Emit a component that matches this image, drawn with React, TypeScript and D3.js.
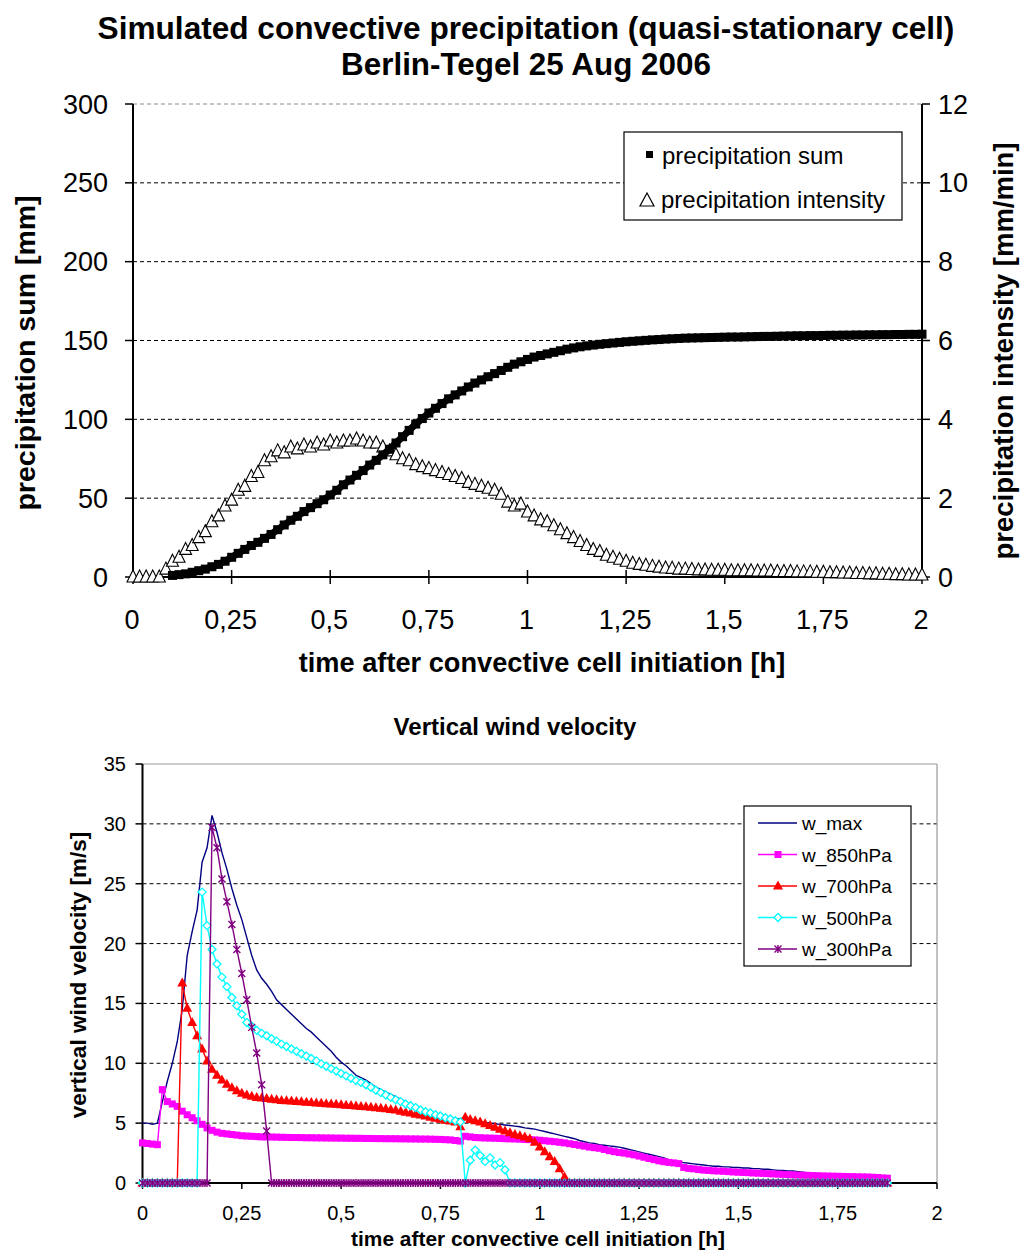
import React from "react";
import * as d3 from "d3";

// ---------- upper panel: precipitation of the simulated cell ----------
// output every minute, 0 .. 2 h
const precipTimeH: number[] = d3.range(0, 121).map((i) => i / 60);

// accumulated precipitation [mm] (no output before 6 min)
const precipSumMm: (number | null)[] = [
  null, null, null, null, null, null,
  1, 1.5, 2, 3, 4, 5, 6.5, 8, 10, 12.5,
  15, 17.5, 20, 22, 24.5, 27, 30, 33, 36, 38.5,
  41.5, 44, 46.5, 49, 52, 55, 58.5, 61.5, 64.5, 67.5,
  71, 74, 77.5, 81, 85, 89, 93, 97, 100.5, 104,
  107, 110, 113, 115.5, 118, 120.5, 123, 125, 127, 129,
  131, 133, 135, 136.5, 138, 139.5, 140.5, 141.5, 142.5, 143.5,
  144.5, 145.3, 146, 146.6, 147.1, 147.6, 148, 148.4, 148.8, 149.2,
  149.5, 149.8, 150.1, 150.4, 150.6, 150.9, 151.1, 151.3, 151.5,
  151.6, 151.7, 151.8, 151.9, 152, 152.1, 152.2, 152.2, 152.3, 152.4,
  152.5, 152.6, 152.6, 152.7, 152.8, 152.9, 153, 153, 153.1, 153.1,
  153.2, 153.3, 153.3, 153.4, 153.4, 153.5, 153.5, 153.6, 153.6, 153.7,
  153.7, 153.8, 153.8, 153.9, 153.9, 154,
];

// precipitation intensity [mm/min]
const precipIntensity: number[] = [
  0, 0, 0, 0, 0,
  0.2, 0.4, 0.5, 0.7, 0.8, 1.0, 1.15, 1.4, 1.55, 1.8,
  1.95, 2.2, 2.3, 2.55, 2.65, 2.95, 3.05, 3.2, 3.15, 3.3,
  3.25, 3.35, 3.3, 3.4, 3.35, 3.45, 3.4, 3.45, 3.45, 3.5,
  3.45, 3.4, 3.4, 3.3, 3.2, 3.1, 3.0, 2.95, 2.85, 2.8,
  2.75, 2.7, 2.65, 2.6, 2.55, 2.5, 2.4, 2.35, 2.3, 2.25,
  2.2, 2.1, 1.9, 1.8, 1.85, 1.65, 1.55, 1.45, 1.4, 1.3,
  1.2, 1.1, 1.0, 0.9, 0.8, 0.7, 0.65, 0.55, 0.5, 0.45,
  0.4, 0.35, 0.32, 0.3, 0.27, 0.25, 0.23, 0.22, 0.2, 0.2,
  0.19, 0.18, 0.18, 0.17, 0.17, 0.17, 0.16, 0.16, 0.16, 0.16,
  0.15, 0.15, 0.15, 0.14, 0.14, 0.14, 0.13, 0.13, 0.13, 0.12,
  0.12, 0.11, 0.11, 0.1, 0.1, 0.09, 0.09, 0.08, 0.08, 0.07,
  0.07, 0.06, 0.06, 0.05, 0.05, 0.05,
];

const sumTicks = [0, 50, 100, 150, 200, 250, 300];
const intensityTicks = [0, 2, 4, 6, 8, 10, 12];
const timeTicks = [0, 0.25, 0.5, 0.75, 1, 1.25, 1.5, 1.75, 2];
const timeTickLabels = ["0", "0,25", "0,5", "0,75", "1", "1,25", "1,5", "1,75", "2"];

// ---------- lower panel: vertical wind velocity ----------
// output every 45 s, 0 .. 1.875 h
const windTimeH: number[] = d3.range(0, 151).map((i) => i * 0.0125);

const wMax: number[] = [
  5.0, 5.0, 4.9, 5.0, 6.8, 8.5, 10.0, 11.8, 14.5, 19.0,
  21.0, 22.8, 26.8, 28.0, 30.7, 29.3, 27.6, 26.2, 24.6, 23.2,
  22.0, 20.5, 19.0, 17.8, 17.1, 16.6, 16.0, 15.3, 14.9, 14.5,
  14.1, 13.7, 13.3, 12.9, 12.6, 12.2, 11.8, 11.4, 11.0, 10.5,
  10.1, 9.8, 9.4, 9.0, 8.8, 8.6, 8.3, 8.0, 7.8, 7.6,
  7.4, 7.2, 7.0, 6.8, 6.6, 6.4, 6.2, 6.1, 5.95, 5.8,
  5.7, 5.6, 5.5, 5.4, 5.35, 5.5, 5.35, 5.2, 5.1, 5.05,
  5.0, 4.95, 4.9, 4.85, 4.8, 4.75, 4.7, 4.6, 4.55, 4.5,
  4.4, 4.3, 4.2, 4.1, 4.0, 3.9, 3.8, 3.7, 3.55, 3.45,
  3.35, 3.3, 3.2, 3.15, 3.1, 3.05, 3.0, 2.9, 2.8, 2.7,
  2.6, 2.5, 2.4, 2.3, 2.2, 2.1, 1.95, 1.8, 1.75, 1.7,
  1.65, 1.6, 1.55, 1.5, 1.45, 1.4, 1.4, 1.35, 1.35, 1.3,
  1.3, 1.25, 1.25, 1.2, 1.2, 1.15, 1.15, 1.1, 1.05, 1.05,
  1.0, 1.0, 0.95, 0.9, 0.85, 0.8, 0.8, 0.75, 0.7, 0.7,
  0.65, 0.6, 0.6, 0.55, 0.55, 0.5, 0.5, 0.45, 0.45, 0.4, 0.4,
];

const w850: number[] = [
  3.35, 3.3, 3.25, 3.2, 7.8, 6.8, 6.6, 6.4, 6.0, 5.7,
  5.45, 5.2, 4.9, 4.6, 4.4, 4.25, 4.15, 4.1, 4.05, 4.0,
  3.95, 3.92, 3.9, 3.88, 3.85, 3.85, 3.84, 3.83, 3.82, 3.81,
  3.8, 3.8, 3.79, 3.78, 3.78, 3.77, 3.77, 3.76, 3.76, 3.75,
  3.75, 3.74, 3.74, 3.73, 3.73, 3.72, 3.72, 3.71, 3.71, 3.7,
  3.7, 3.7, 3.69, 3.69, 3.68, 3.68, 3.67, 3.67, 3.66, 3.65,
  3.64, 3.62, 3.6, 3.55, 3.5, 3.9, 3.85, 3.8, 3.78, 3.76,
  3.75, 3.74, 3.72, 3.7, 3.69, 3.68, 3.66, 3.64, 3.62, 3.6,
  3.57, 3.53, 3.49, 3.45, 3.4, 3.35, 3.28, 3.22, 3.15, 3.08,
  3.0, 2.95, 2.9, 2.8, 2.7, 2.62, 2.55, 2.5, 2.42, 2.35,
  2.25, 2.15, 2.05, 1.95, 1.85, 1.78, 1.72, 1.68, 1.62, 1.3,
  1.22, 1.18, 1.12, 1.08, 1.05, 1.02, 1.0, 0.98, 0.95, 0.92,
  0.9, 0.88, 0.86, 0.84, 0.82, 0.8, 0.78, 0.76, 0.74, 0.72,
  0.7, 0.68, 0.66, 0.65, 0.64, 0.62, 0.6, 0.59, 0.58, 0.57,
  0.56, 0.55, 0.54, 0.53, 0.52, 0.51, 0.5, 0.48, 0.46, 0.43, 0.4,
];

const w700: number[] = [
  0, 0, 0, 0, 0, 0, 0, 0, 16.7, 14.6,
  13.4, 12.3, 11.2, 10.2, 9.5, 9.0, 8.6, 8.25, 7.95, 7.7,
  7.5, 7.35, 7.25, 7.15, 7.1, 7.05, 7.0, 6.95, 6.9, 6.87,
  6.84, 6.81, 6.78, 6.75, 6.72, 6.69, 6.66, 6.63, 6.6, 6.57,
  6.54, 6.5, 6.47, 6.44, 6.4, 6.36, 6.32, 6.28, 6.24, 6.2,
  6.15, 6.1, 6.0, 5.92, 5.85, 5.75, 5.68, 5.6, 5.5, 5.4,
  5.32, 5.25, 5.18, 5.1, 4.7, 5.5, 5.3, 5.2, 5.1, 4.95,
  4.8, 4.65, 4.5, 4.35, 4.2, 4.05, 3.95, 3.85, 3.7, 3.4,
  3.0, 2.6, 2.2, 1.8, 1.2, 0.5, 0, 0, 0, 0,
  0, 0, 0, 0, 0, 0, 0, 0, 0, 0,
  0, 0, 0, 0, 0, 0, 0, 0, 0, 0,
  0, 0, 0, 0, 0, 0, 0, 0, 0, 0,
  0, 0, 0, 0, 0, 0, 0, 0, 0, 0,
  0, 0, 0, 0, 0, 0, 0, 0, 0, 0,
  0, 0, 0, 0, 0, 0, 0, 0, 0, 0, 0,
];

const w500: number[] = [
  0, 0, 0, 0, 0, 0, 0, 0, 0, 0,
  0, 0, 24.3, 21.5, 19.5, 18.3, 17.2, 16.4, 15.5, 14.8,
  14.1, 13.4, 13.1, 12.75, 12.5, 12.3, 12.05, 11.85, 11.6, 11.4,
  11.2, 11.0, 10.8, 10.6, 10.4, 10.2, 9.95, 9.75, 9.55, 9.35,
  9.15, 8.95, 8.75, 8.55, 8.4, 8.2, 8.0, 7.75, 7.55, 7.35,
  7.15, 6.95, 6.8, 6.6, 6.45, 6.3, 6.1, 5.95, 5.85, 5.7,
  5.6, 5.45, 5.35, 5.2, 5.1, 0, 1.9, 2.75, 2.3, 1.8,
  2.1, 1.5, 1.7, 1.1, 0, 0, 0, 0, 0, 0,
  0, 0, 0, 0, 0, 0, 0, 0, 0, 0,
  0, 0, 0, 0, 0, 0, 0, 0, 0, 0,
  0, 0, 0, 0, 0, 0, 0, 0, 0, 0,
  0, 0, 0, 0, 0, 0, 0, 0, 0, 0,
  0, 0, 0, 0, 0, 0, 0, 0, 0, 0,
  0, 0, 0, 0, 0, 0, 0, 0, 0, 0,
  0, 0, 0, 0, 0, 0, 0, 0, 0, 0, 0,
];

const w300: number[] = [
  0, 0, 0, 0, 0, 0, 0, 0, 0, 0,
  0, 0, 0, 0, 29.7, 28.0, 25.4, 23.5, 21.6, 19.5,
  17.5, 15.3, 13.0, 10.85, 8.2, 4.35, 0, 0, 0, 0,
  0, 0, 0, 0, 0, 0, 0, 0, 0, 0,
  0, 0, 0, 0, 0, 0, 0, 0, 0, 0,
  0, 0, 0, 0, 0, 0, 0, 0, 0, 0,
  0, 0, 0, 0, 0, 0, 0, 0, 0, 0,
  0, 0, 0, 0, 0, 0, 0, 0, 0, 0,
  0, 0, 0, 0, 0, 0, 0, 0, 0, 0,
  0, 0, 0, 0, 0, 0, 0, 0, 0, 0,
  0, 0, 0, 0, 0, 0, 0, 0, 0, 0,
  0, 0, 0, 0, 0, 0, 0, 0, 0, 0,
  0, 0, 0, 0, 0, 0, 0, 0, 0, 0,
  0, 0, 0, 0, 0, 0, 0, 0, 0, 0,
  0, 0, 0, 0, 0, 0, 0, 0, 0, 0, 0,
];

const windTicks = [0, 5, 10, 15, 20, 25, 30, 35];

type Marker = "none" | "square" | "triangle" | "diamond" | "star";
const windSeries: { name: string; values: number[]; color: string; marker: Marker }[] = [
  { name: "w_max", values: wMax, color: "#000080", marker: "none" },
  { name: "w_850hPa", values: w850, color: "#FF00FF", marker: "square" },
  { name: "w_700hPa", values: w700, color: "#FF0000", marker: "triangle" },
  { name: "w_500hPa", values: w500, color: "#00FFFF", marker: "diamond" },
  { name: "w_300hPa", values: w300, color: "#800080", marker: "star" },
];

const FONT = "'Liberation Sans', Arial, Helvetica, sans-serif";

function WindMarker({ kind, x, y, color }: { kind: Marker; x: number; y: number; color: string }) {
  if (kind === "square") {
    return <rect x={x - 3.5} y={y - 3.5} width={7} height={7} fill={color} />;
  }
  if (kind === "triangle") {
    return <path d={`M${x},${y - 5.5} L${x + 5},${y + 3.5} L${x - 5},${y + 3.5} Z`} fill={color} />;
  }
  if (kind === "diamond") {
    return (
      <path
        d={`M${x},${y - 4} L${x + 4},${y} L${x},${y + 4} L${x - 4},${y} Z`}
        fill="#fff"
        stroke={color}
        strokeWidth={1.3}
      />
    );
  }
  if (kind === "star") {
    return (
      <path
        d={`M${x - 3.5},${y - 3.5} L${x + 3.5},${y + 3.5} M${x - 3.5},${y + 3.5} L${x + 3.5},${y - 3.5} M${x},${y - 4} L${x},${y + 4}`}
        stroke={color}
        strokeWidth={1.4}
        fill="none"
      />
    );
  }
  return null;
}

export default function App() {
  // ----- upper panel scales -----
  const xTop = d3.scaleLinear().domain([0, 2]).range([133, 922]);
  const ySum = d3.scaleLinear().domain([0, 300]).range([577, 104]);
  const yInt = d3.scaleLinear().domain([0, 12]).range([577, 104]);

  // ----- lower panel scales -----
  const xBot = d3.scaleLinear().domain([0, 2]).range([142.5, 937]);
  const yBot = d3.scaleLinear().domain([0, 35]).range([1183, 764]);

  const windLine = d3
    .line<number>()
    .x((_, i) => xBot(windTimeH[i]))
    .y((d) => yBot(d));

  // dense marker band of the accumulated sum
  const sumBand = d3
    .line<number | null>()
    .defined((d) => d !== null)
    .x((_, i) => xTop(precipTimeH[i]))
    .y((d) => ySum(d as number));

  const triPath = (x: number, y: number) =>
    `M${x},${y - 7} L${x + 6},${y + 5} L${x - 6},${y + 5} Z`;

  return (
    <svg
      width={1022}
      height={1252}
      viewBox="0 0 1022 1252"
      style={{ position: "absolute", left: 0, top: 0, display: "block", background: "#fff" }}
      fontFamily={FONT}
    >
      <rect x={0} y={0} width={1022} height={1252} fill="#fff" />

      {/* ================= upper panel ================= */}
      <text x={526} y={39} textAnchor="middle" fontWeight="bold" fontSize={31.6}>
        Simulated convective precipitation (quasi-stationary cell)
      </text>
      <text x={526} y={75} textAnchor="middle" fontWeight="bold" fontSize={31.4}>
        Berlin-Tegel 25 Aug 2006
      </text>

      {/* gridlines */}
      {sumTicks.slice(1).map((v) => (
        <line
          key={"g" + v}
          x1={xTop(0)}
          x2={xTop(2)}
          y1={ySum(v)}
          y2={ySum(v)}
          stroke={v === 300 ? "#888" : "#000"}
          strokeWidth={1}
          strokeDasharray="4,3"
        />
      ))}

      {/* axes */}
      <line x1={xTop(0)} x2={xTop(0)} y1={ySum(300)} y2={ySum(0)} stroke="#000" strokeWidth={2} />
      <line x1={xTop(2)} x2={xTop(2)} y1={ySum(300)} y2={ySum(0)} stroke="#000" strokeWidth={2} />
      <line x1={xTop(0)} x2={xTop(2)} y1={ySum(0)} y2={ySum(0)} stroke="#000" strokeWidth={2} />
      {sumTicks.map((v) => (
        <g key={"ls" + v}>
          <line x1={xTop(0) - 8} x2={xTop(0)} y1={ySum(v)} y2={ySum(v)} stroke="#000" strokeWidth={1.5} />
          <text x={108} y={ySum(v) + 9.5} textAnchor="end" fontSize={27}>
            {v}
          </text>
        </g>
      ))}
      {intensityTicks.map((v) => (
        <g key={"li" + v}>
          <line x1={xTop(2)} x2={xTop(2) + 8} y1={yInt(v)} y2={yInt(v)} stroke="#000" strokeWidth={1.5} />
          <text x={938} y={yInt(v) + 9.5} textAnchor="start" fontSize={27}>
            {v}
          </text>
        </g>
      ))}
      {timeTicks.map((v, i) => (
        <g key={"lt" + v}>
          <line x1={xTop(v)} x2={xTop(v)} y1={ySum(0) - 7} y2={ySum(0) + 7} stroke="#000" strokeWidth={1.5} />
          <text x={xTop(v) - 1} y={629} textAnchor="middle" fontSize={27}>
            {timeTickLabels[i]}
          </text>
        </g>
      ))}

      {/* axis titles */}
      <text x={542} y={672} textAnchor="middle" fontWeight="bold" fontSize={27.2}>
        time after convective cell initiation [h]
      </text>
      <text
        transform={`translate(35,353) rotate(-90)`}
        textAnchor="middle"
        fontWeight="bold"
        fontSize={28.5}
      >
        precipitation sum  [mm]
      </text>
      <text
        transform={`translate(1013,351) rotate(-90)`}
        textAnchor="middle"
        fontWeight="bold"
        fontSize={27.5}
      >
        precipitation intensity  [mm/min]
      </text>

      {/* intensity: open triangles on the secondary axis */}
      {precipIntensity.map((v, i) => (
        <path
          key={"pi" + i}
          d={triPath(xTop(precipTimeH[i]), yInt(v))}
          fill="#fff"
          stroke="#000"
          strokeWidth={1.1}
        />
      ))}
      {/* accumulated sum: filled squares */}
      <path d={sumBand(precipSumMm) ?? ""} fill="none" stroke="#000" strokeWidth={7} />
      {precipSumMm.map((v, i) =>
        v === null ? null : (
          <rect
            key={"ps" + i}
            x={xTop(precipTimeH[i]) - 4.5}
            y={ySum(v) - 4.5}
            width={9}
            height={9}
            fill="#000"
          />
        )
      )}

      {/* legend */}
      <rect x={624} y={132} width={278} height={88} fill="#fff" stroke="#000" strokeWidth={1.2} />
      <rect x={646} y={151} width={7} height={7} fill="#000" />
      <text x={662} y={164} fontSize={24}>
        precipitation sum
      </text>
      <path d="M647,193 L654,206 L640,206 Z" fill="#fff" stroke="#000" strokeWidth={1.2} />
      <text x={661} y={208} fontSize={24}>
        precipitation intensity
      </text>

      {/* ================= lower panel ================= */}
      <text x={515} y={735} textAnchor="middle" fontWeight="bold" fontSize={24}>
        Vertical wind velocity
      </text>

      {windTicks.slice(1, -1).map((v) => (
        <line
          key={"wg" + v}
          x1={xBot(0)}
          x2={xBot(2)}
          y1={yBot(v)}
          y2={yBot(v)}
          stroke="#000"
          strokeWidth={1}
          strokeDasharray="4,3"
        />
      ))}
      {/* plot frame (top and right) */}
      <line x1={xBot(0)} x2={xBot(2)} y1={yBot(35)} y2={yBot(35)} stroke="#999" strokeWidth={1.2} />
      <line x1={xBot(2)} x2={xBot(2)} y1={yBot(35)} y2={yBot(0)} stroke="#999" strokeWidth={1.2} />

      {windTicks.map((v) => (
        <g key={"wl" + v}>
          <line x1={xBot(0) - 7} x2={xBot(0)} y1={yBot(v)} y2={yBot(v)} stroke="#000" strokeWidth={1.5} />
          <text x={126} y={yBot(v) + 7} textAnchor="end" fontSize={20}>
            {v}
          </text>
        </g>
      ))}
      {timeTicks.map((v, i) => (
        <g key={"wt" + v}>
          <line x1={xBot(v)} x2={xBot(v)} y1={yBot(0)} y2={yBot(0) + 6} stroke="#000" strokeWidth={1.5} />
          <text x={xBot(v)} y={1220} textAnchor="middle" fontSize={20}>
            {timeTickLabels[i]}
          </text>
        </g>
      ))}
      <line x1={xBot(0)} x2={xBot(0)} y1={yBot(35)} y2={yBot(0)} stroke="#000" strokeWidth={2} />
      <line x1={xBot(0)} x2={xBot(2)} y1={yBot(0)} y2={yBot(0)} stroke="#000" strokeWidth={2} />

      <text x={538} y={1246} textAnchor="middle" fontWeight="bold" fontSize={20.9}>
        time after convective cell initiation [h]
      </text>
      <text
        transform={`translate(86,975) rotate(-90)`}
        textAnchor="middle"
        fontWeight="bold"
        fontSize={22.5}
      >
        vertical wind velocity  [m/s]
      </text>

      {/* series */}
      {windSeries.map((s) => (
        <g key={s.name}>
          <path d={windLine(s.values) ?? ""} fill="none" stroke={s.color} strokeWidth={1.4} />
          {s.marker !== "none" &&
            s.values.map((v, i) => (
              <WindMarker key={i} kind={s.marker} x={xBot(windTimeH[i])} y={yBot(v)} color={s.color} />
            ))}
        </g>
      ))}

      {/* legend */}
      <rect x={744} y={806} width={167} height={160} fill="#fff" stroke="#000" strokeWidth={1.2} />
      {windSeries.map((s, i) => {
        const ly = 823 + i * 31.5;
        return (
          <g key={"leg" + s.name}>
            <line x1={758} x2={797} y1={ly} y2={ly} stroke={s.color} strokeWidth={1.4} />
            <WindMarker kind={s.marker} x={778} y={ly} color={s.color} />
            <text x={802} y={ly + 7} fontSize={19}>
              {s.name}
            </text>
          </g>
        );
      })}
    </svg>
  );
}
